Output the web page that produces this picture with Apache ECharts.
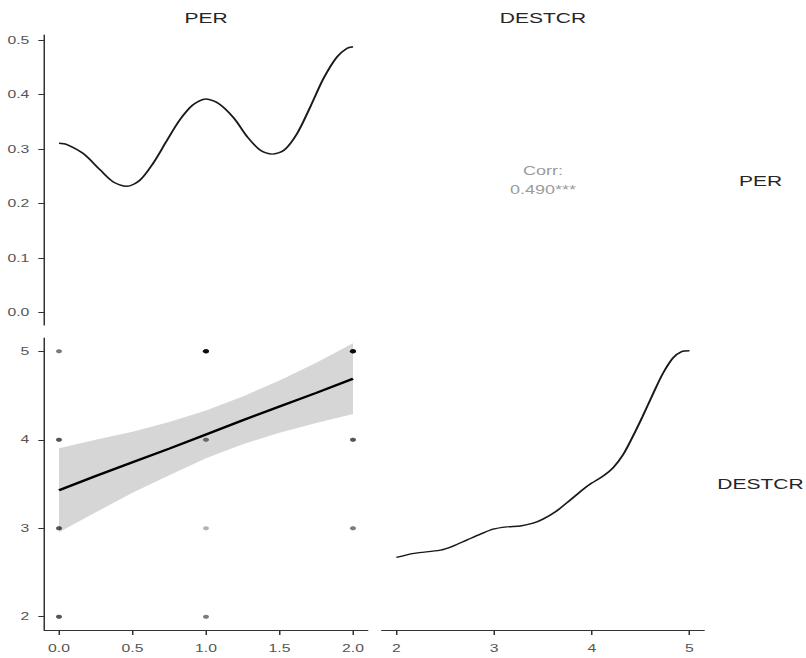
<!DOCTYPE html>
<html>
<head>
<meta charset="utf-8">
<script src="https://cdn.jsdelivr.net/npm/echarts@6/dist/echarts.min.js"></script>
<style>
html, body { margin:0; padding:0; background:#fff; overflow:hidden; }
#wrap { width:806px; height:658px; overflow:hidden; }
#c { width:537.33px; height:658px; transform: scaleX(1.5); transform-origin: 0 0; }
</style>
</head>
<body>
<div id="wrap"><div id="c"></div></div>
<script>
// ---- variable names ----
const varNames = ['PER', 'DESTCR'];
const corrText = ['Corr:', '0.490***'];

// ---- diagonal density: PER ----
const perX = [0, 0.05, 0.165, 0.28, 0.37, 0.46, 0.55, 0.64, 0.73, 0.82, 0.91, 1.0, 1.09, 1.19, 1.28, 1.37, 1.45, 1.53, 1.62, 1.71, 1.80, 1.89, 1.96, 2.0];
const perDensity = [0.311, 0.309, 0.292, 0.262, 0.240, 0.232, 0.243, 0.274, 0.314, 0.353, 0.381, 0.392, 0.383, 0.357, 0.323, 0.298, 0.291, 0.298, 0.329, 0.378, 0.430, 0.469, 0.485, 0.488];

// ---- diagonal density: DESTCR ----
const destX = [2.00, 2.18, 2.45, 2.58, 2.72, 2.86, 2.99, 3.13, 3.27, 3.40, 3.50, 3.64, 3.78, 3.91, 4.00, 4.12, 4.22, 4.32, 4.42, 4.52, 4.63, 4.73, 4.83, 4.92, 5.00];
const destDensity = [0.129, 0.138, 0.145, 0.154, 0.167, 0.180, 0.191, 0.196, 0.198, 0.204, 0.213, 0.231, 0.255, 0.278, 0.292, 0.308, 0.326, 0.354, 0.394, 0.438, 0.489, 0.533, 0.566, 0.580, 0.582];

// ---- scatter points (PER, DESTCR, number of overplotted observations) ----
const ptPER    = [0, 0, 0, 0, 1, 1, 1, 1, 2, 2, 2];
const ptDESTCR = [2, 3, 4, 5, 2, 3, 4, 5, 3, 4, 5];
const ptCount  = [3, 3, 3, 2, 2, 1, 2, 8, 2, 3, 8];

// ---- linear fit with confidence band ----
const fitX  = [0, 0.25, 0.5, 0.75, 1, 1.25, 1.5, 1.75, 2];
const fitY  = [3.43, 3.59, 3.745, 3.90, 4.06, 4.22, 4.375, 4.53, 4.69];
const fitLo = [2.955, 3.18, 3.40, 3.60, 3.79, 3.95, 4.08, 4.19, 4.29];
const fitHi = [3.905, 4.00, 4.09, 4.20, 4.33, 4.49, 4.67, 4.87, 5.09];

// ---- tick values ----
const perDensTicks = [0, 0.1, 0.2, 0.3, 0.4, 0.5];
const perTicks = [0, 0.5, 1, 1.5, 2];
const destTicks = [2, 3, 4, 5];

// ---- layout (inner, unstretched coords) ----
const FONT = '"Liberation Sans", Arial, Helvetica, sans-serif';
const colL = 29.53, colR = 254.5, colW = 215.6, colW2 = 214.9;
const rowT = 35, rowH = 290, rowB = 338, rowH2 = 292;

const axisLineStyle = { show: true, onZero: false, lineStyle: { color: '#333', width: 1 } };
function axisTick(vals, len) { return { show: true, length: len, customValues: vals, lineStyle: { color: '#333', width: 1 } }; }
function axisLabel(vals, dec, margin) {
  return { show: true, customValues: vals, margin: margin, color: '#555', fontSize: 10.5, fontFamily: FONT,
    formatter: v => dec ? Number(v).toFixed(dec) : String(Math.round(v)) };
}
const hiddenAxis = (gi, min, max) => ({ gridIndex: gi, type: 'value', min: min, max: max, show: false, splitLine: { show: false } });

const scatterData = [];
ptPER.forEach((x, i) => { for (let k = 0; k < ptCount[i]; k++) scatterData.push([x, ptDESTCR[i]]); });

const bandData = fitX.map((x, i) => [x, fitLo[i], fitHi[i]]);

function renderBand(params, api) {
  if (params.dataIndex !== 0) return null;
  const n = params.dataInsideLength;
  const upper = [], lower = [];
  for (let i = 0; i < n; i++) {
    const x = api.value(0, i);
    upper.push(api.coord([x, api.value(2, i)]));
    lower.push(api.coord([x, api.value(1, i)]));
  }
  const pts = upper.concat(lower.reverse());
  return {
    type: 'polygon',
    shape: { points: pts, smooth: 0 },
    style: { fill: 'rgba(153,153,153,0.4)', stroke: 'none' },
    silent: true
  };
}

const option = {
  animation: false,
  backgroundColor: '#fff',
  grid: [
    { left: colL, top: rowT, width: colW, height: rowH, outerBoundsMode: 'none' },
    { left: colR, top: rowT, width: colW2, height: rowH, outerBoundsMode: 'none' },
    { left: colL, top: rowB, width: colW, height: rowH2, outerBoundsMode: 'none' },
    { left: colR, top: rowB, width: colW2, height: rowH2, outerBoundsMode: 'none' }
  ],
  xAxis: [
    hiddenAxis(0, -0.1, 2.1),
    hiddenAxis(1, 0, 1),
    { gridIndex: 2, type: 'value', min: -0.1, max: 2.1, axisLine: axisLineStyle, axisTick: axisTick(perTicks, 5),
      axisLabel: axisLabel(perTicks, 1, 13), splitLine: { show: false } },
    { gridIndex: 3, type: 'value', min: 1.85, max: 5.15, axisLine: axisLineStyle, axisTick: axisTick(destTicks, 5),
      axisLabel: axisLabel(destTicks, 0, 13), splitLine: { show: false } }
  ],
  yAxis: [
    { gridIndex: 0, type: 'value', min: -0.0225, max: 0.5095, axisLine: axisLineStyle, axisTick: axisTick(perDensTicks, 4),
      axisLabel: axisLabel(perDensTicks, 1, 10), splitLine: { show: false } },
    hiddenAxis(1, 0, 1),
    { gridIndex: 2, type: 'value', min: 1.85, max: 5.15, axisLine: axisLineStyle, axisTick: axisTick(destTicks, 4),
      axisLabel: axisLabel(destTicks, 0, 10), splitLine: { show: false } },
    hiddenAxis(3, -0.03, 0.61)
  ],
  graphic: [
    { type: 'text', x: colL + colW / 2, y: 18, silent: true,
      style: { text: varNames[0], fill: '#262626', font: '14px ' + FONT, textAlign: 'center', textVerticalAlign: 'middle' } },
    { type: 'text', x: colR + colW2 / 2, y: 18, silent: true,
      style: { text: varNames[1], fill: '#262626', font: '14px ' + FONT, textAlign: 'center', textVerticalAlign: 'middle' } },
    { type: 'text', x: 507, y: rowT + rowH / 2 + 1, silent: true,
      style: { text: varNames[0], fill: '#262626', font: '14px ' + FONT, textAlign: 'center', textVerticalAlign: 'middle' } },
    { type: 'text', x: 507, y: rowB + rowH2 / 2, silent: true,
      style: { text: varNames[1], fill: '#262626', font: '14px ' + FONT, textAlign: 'center', textVerticalAlign: 'middle' } }
  ],
  series: [
    { type: 'line', xAxisIndex: 0, yAxisIndex: 0, data: perX.map((x, i) => [x, perDensity[i]]),
      smooth: 0.3, symbol: 'none', lineStyle: { color: '#1a1a1a', width: 1.4 }, silent: true },
    { type: 'scatter', xAxisIndex: 1, yAxisIndex: 1, data: [[0.5, 0.5]], symbolSize: 0, silent: true,
      label: { show: true, position: 'inside', formatter: corrText.join('\n'), color: '#808080', fontSize: 12, lineHeight: 19, fontFamily: FONT } },
    { type: 'scatter', xAxisIndex: 2, yAxisIndex: 2, data: scatterData, symbol: 'circle', symbolSize: 4, silent: true,
      itemStyle: { color: '#000', opacity: 0.3 } },
    { type: 'custom', xAxisIndex: 2, yAxisIndex: 2, data: bandData, renderItem: renderBand, silent: true,
      encode: { x: 0, y: [1, 2] }, clip: true },
    { type: 'line', xAxisIndex: 2, yAxisIndex: 2, data: fitX.map((x, i) => [x, fitY[i]]),
      symbol: 'none', lineStyle: { color: '#000', width: 2.2 }, silent: true },
    { type: 'line', xAxisIndex: 3, yAxisIndex: 3, data: destX.map((x, i) => [x, destDensity[i]]),
      smooth: 0.3, symbol: 'none', lineStyle: { color: '#1a1a1a', width: 1.4 }, silent: true }
  ]
};

const chart = echarts.init(document.getElementById('c'), null, { renderer: 'svg', width: 537.33, height: 658 });
chart.setOption(option);
</script>
</body>
</html>
